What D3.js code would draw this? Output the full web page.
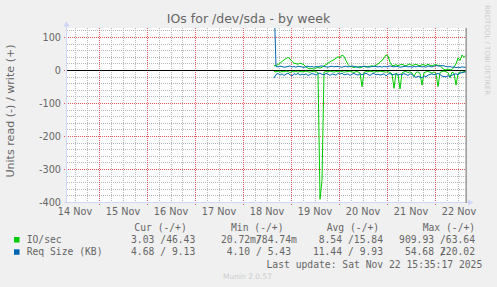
<!DOCTYPE html>
<html>
<head>
<meta charset="utf-8">
<script src="https://cdn.jsdelivr.net/npm/d3@7"></script>
<style>
  body { margin: 0; background: #f0f0f0; }
  text { font-family: 'DejaVu Sans', sans-serif; fill: #666; }
  .mono { font-family: 'DejaVu Sans Mono', monospace; }
</style>
</head>
<body>
<div id="chart"></div>
<script>
// time window of the week graph
var timeStart = new Date(2025, 10, 14, 8, 0);
var timeEnd = new Date(2025, 10, 22, 16, 0);
var lastUpdate = new Date(2025, 10, 22, 15, 35, 17);
var dataStart = new Date(2025, 10, 18, 15, 30); // one sample per hour from here

var yTicks = [100, 0, -100, -200, -300, -400];
var dayLabels = ['14 Nov', '15 Nov', '16 Nov', '17 Nov', '18 Nov', '19 Nov', '20 Nov', '21 Nov', '22 Nov'];

// IO/sec (green): read is drawn below zero, write above
var ioRead = [
  -3, -4, -2, -5, -3, -4, -2, -3, -6, -3,
  -4, -2, -5, -3, -4, -3, -2, -4, -5, -3,
  -2, -4, -6, -390, -333, -5, -3, -4, -2, -3,
  -5, -3, -4, -2, -3, -5, -4, -3, -2, -4,
  -6, -3, -4, -8, -49, -6, -3, -4, -2, -3,
  -5, -3, -4, -2, -3, -4, -5, -3, -6, -10,
  -54, -8, -12, -56, -7, -4, -3, -6, -4, -8,
  -18, -6, -4, -9, -44, -7, -4, -3, -5, -8,
  -4, -10, -49, -6, -3, -2, -4, -6, -22, -5,
  -8, -44, -10, -4, -6, -3, -3.03
];
var ioWrite = [
  14, 15, 18, 22, 27, 32, 36, 40, 35, 28,
  22, 21, 19, 22, 20, 17, 10, 7, 5, 6,
  4, 8, 9, 7, 10, 14, 18, 22, 26, 30,
  33, 37, 42, 38, 47, 43, 30, 18, 12, 11,
  9, 12, 10, 8, 11, 13, 10, 12, 13, 14,
  12, 16, 20, 26, 30, 38, 47, 44, 25, 15,
  15, 18, 14, 17, 19, 16, 14, 18, 20, 15,
  17, 19, 16, 14, 18, 17, 15, 19, 16, 14,
  17, 18, 15, 16, 8, 3, 2, 4, 2, 3,
  10, 20, 38, 30, 47, 40, 46.43
];
// Req Size KB (blue)
var reqRead = [
  -23,
  -12, -9, -14, -10, -15, -11, -8, -13, -16, -10,
  -12, -9, -14, -11, -13, -10, -15, -12, -9, -11,
  -14, -10, -8, -12, -13, -9, -11, -15, -10, -12,
  -14, -9, -11, -8, -13, -12, -10, -15, -11, -9,
  -12, -14, -10, -13, -11, -8, -12, -15, -10, -9,
  -13, -11, -14, -12, -10, -16, -11, -9, -13, -12,
  -10, -14, -11, -13, -9, -12, -15, -10, -12, -18,
  -21, -17, -20, -22, -16, -19, -14, -12, -10, -13,
  -11, -9, -12, -17, -18, -19, -16, -18, -14, -12,
  -10, -13, -8, -6, -5, -4.68
];
var reqWrite = [
  220.02,
  12, 11, 13, 12, 10, 11, 12, 14, 11, 12,
  10, 13, 12, 11, 9, 12, 13, 11, 12, 10,
  12, 11, 13, 14, 12, 11, 10, 12, 13, 11,
  12, 12, 11, 10, 12, 13, 11, 12, 14, 12,
  11, 10, 12, 11, 13, 12, 10, 11, 12, 13,
  12, 11, 12, 10, 13, 11, 12, 14, 12, 11,
  13, 12, 10, 11, 12, 13, 11, 12, 10, 12,
  11, 13, 12, 11, 12, 10, 14, 12, 11, 13,
  15, 14, 13, 15, 14, 12, 11, 12, 10, 11,
  9, 10, 9, 11, 10, 9.13
];

// legend
var legendNames = ['IO/sec', 'Req Size (KB)'];
var legendColors = ['#00cc00', '#0066b3'];
var legendHeaders = ['Cur (-/+)', 'Min (-/+)', 'Avg (-/+)', 'Max (-/+)'];
var curRead = ['3.03', '4.68'], curWrite = ['46.43', '9.13'];
var minRead = ['20.72m', '4.10'], minWrite = ['784.74m', '5.43'];
var avgRead = ['8.54', '11.44'], avgWrite = ['15.84', '9.93'];
var maxRead = ['909.93', '54.68'], maxWrite = ['63.64', '220.02'];

var plot = { left: 67, right: 467, top: 28, bottom: 203 };

var svg = d3.select('#chart').append('svg')
  .attr('width', 497)
  .attr('height', 287);

svg.append('rect')
  .attr('width', 497)
  .attr('height', 287)
  .attr('fill', '#f0f0f0');

svg.append('rect')
  .attr('x', plot.left)
  .attr('y', plot.top)
  .attr('width', plot.right - plot.left)
  .attr('height', plot.bottom - plot.top)
  .attr('fill', '#fff');

var x = d3.scaleTime()
  .domain([timeStart, timeEnd])
  .range([plot.left, plot.right]);
var y = d3.scaleLinear()
  .domain([-400, 128.8])
  .range([202.5, plot.top]);

function snap(v) {
  return Math.floor(v) + 0.5;
}

/*
 * Grid: dotted grey minor lines, dotted red major lines
 */
var grid = svg.append('g')
  .attr('shape-rendering', 'crispEdges')
  .attr('stroke-dasharray', '1,1');

var minorY = d3.range(-380, 130, 20).filter(function(v) { return v % 100 !== 0; });
grid.selectAll('line.gy').data(minorY).enter().append('line')
  .attr('class', 'gy')
  .attr('x1', plot.left).attr('x2', plot.right)
  .attr('y1', function(d) { return snap(y(d)); })
  .attr('y2', function(d) { return snap(y(d)); })
  .attr('stroke', '#b8b8b8');

var minorX = d3.timeHour.every(6).range(timeStart, timeEnd).filter(function(d) { return d.getHours() !== 0; });
grid.selectAll('line.gx').data(minorX).enter().append('line')
  .attr('class', 'gx')
  .attr('x1', function(d) { return snap(x(d)); })
  .attr('x2', function(d) { return snap(x(d)); })
  .attr('y1', plot.top).attr('y2', plot.bottom)
  .attr('stroke', '#b8b8b8');

grid.selectAll('line.my').data(yTicks).enter().append('line')
  .attr('class', 'my')
  .attr('x1', plot.left - 3).attr('x2', plot.right)
  .attr('y1', function(d) { return snap(y(d)); })
  .attr('y2', function(d) { return snap(y(d)); })
  .attr('stroke', '#e05a5a');

var dayLines = d3.timeDay.range(timeStart, timeEnd);
grid.selectAll('line.mx').data(dayLines).enter().append('line')
  .attr('class', 'mx')
  .attr('x1', function(d) { return snap(x(d)); })
  .attr('x2', function(d) { return snap(x(d)); })
  .attr('y1', plot.top).attr('y2', plot.bottom + 3)
  .attr('stroke', '#e05a5a');

/*
 * Axes
 */
var axisColor = '#cfd6f8';
svg.append('line')
  .attr('x1', plot.left - 0.5).attr('x2', plot.left - 0.5)
  .attr('y1', plot.bottom).attr('y2', 24)
  .attr('stroke', axisColor);
svg.append('path')
  .attr('d', 'M63.5,26.5 L66.5,21 L69.5,26.5 Z')
  .attr('fill', axisColor);
svg.append('line')
  .attr('x1', plot.left - 3).attr('x2', 470)
  .attr('y1', 202.5).attr('y2', 202.5)
  .attr('stroke', axisColor);
svg.append('path')
  .attr('d', 'M468,199.5 L473.5,202.5 L468,205.5 Z')
  .attr('fill', axisColor);

svg.selectAll('text.ylab').data(yTicks).enter().append('text')
  .attr('class', 'ylab')
  .attr('x', 61)
  .attr('y', function(d) { return y(d); })
  .attr('dy', '0.36em')
  .attr('text-anchor', 'end')
  .style('font-size', '9.7px')
  .text(function(d) { return d; });

svg.selectAll('text.xlab').data(dayLabels).enter().append('text')
  .attr('class', 'xlab')
  .attr('x', function(d, i) { return x(d3.timeHour.offset(new Date(2025, 10, 14 + i), 12)); })
  .attr('y', 215)
  .attr('text-anchor', 'middle')
  .style('font-size', '9.7px')
  .text(function(d) { return d; });

/*
 * Zero rule, data lines
 */
svg.append('line')
  .attr('x1', plot.left).attr('x2', plot.right)
  .attr('y1', snap(y(0))).attr('y2', snap(y(0)))
  .attr('stroke', '#000');

svg.append('clipPath').attr('id', 'clip')
  .append('rect')
  .attr('x', plot.left).attr('y', plot.top)
  .attr('width', plot.right - plot.left)
  .attr('height', plot.bottom - plot.top);

var line = d3.line()
  .x(function(d, i) { return x(d3.timeHour.offset(dataStart, i)); })
  .y(function(d) { return y(d); });

var series = [
  { values: ioRead, color: legendColors[0] },
  { values: ioWrite, color: legendColors[0] },
  { values: reqRead, color: legendColors[1] },
  { values: reqWrite, color: legendColors[1] }
];
svg.append('g').attr('clip-path', 'url(#clip)')
  .selectAll('path').data(series).enter().append('path')
  .attr('d', function(d) { return line(d.values); })
  .attr('fill', 'none')
  .attr('stroke', function(d) { return d.color; })
  .attr('stroke-width', 1);

svg.append('line')
  .attr('x1', x(lastUpdate)).attr('x2', x(lastUpdate))
  .attr('y1', plot.top).attr('y2', plot.bottom)
  .attr('stroke', '#999')
  .attr('stroke-width', 1.5);

/*
 * Titles
 */
svg.append('text')
  .attr('x', 248.5).attr('y', 23)
  .attr('text-anchor', 'middle')
  .style('font-size', '12.5px')
  .text('IOs for /dev/sda - by week');

svg.append('text')
  .attr('transform', 'translate(14, 111) rotate(-90)')
  .attr('text-anchor', 'middle')
  .style('font-size', '11.1px')
  .text('Units read (-) / write (+)');

svg.append('text')
  .attr('transform', 'translate(485, 5) rotate(90)')
  .style('font-size', '7px')
  .style('fill', '#ccc')
  .text('RRDTOOL / TOBI OETIKER');

svg.append('text')
  .attr('x', 247.5).attr('y', 279)
  .attr('text-anchor', 'middle')
  .style('font-size', '7.5px')
  .style('fill', '#ccc')
  .text('Munin 2.0.57');

/*
 * Legend
 */
var cw = 5.85;
var headerX = [134.3, 231, 326.7, 422.7];
var slashX = [160.2, 255.9, 347.9, 439.9];
var rowY = [243, 255.3];
var legend = svg.append('g').attr('class', 'mono').style('font-size', '9.7px');

legend.selectAll('text.hdr').data(legendHeaders).enter().append('text')
  .attr('class', 'mono hdr')
  .attr('x', function(d, i) { return headerX[i]; })
  .attr('y', 231.3)
  .text(function(d) { return d; });

legendNames.forEach(function(name, r) {
  legend.append('rect')
    .attr('x', 14).attr('y', rowY[r] - 6)
    .attr('width', 5.5).attr('height', 5.5)
    .attr('fill', legendColors[r]);
  legend.append('text')
    .attr('class', 'mono')
    .attr('x', 26.7).attr('y', rowY[r])
    .text(name);

  var cols = [
    [curRead[r], curWrite[r]],
    [minRead[r], minWrite[r]],
    [avgRead[r], avgWrite[r]],
    [maxRead[r], maxWrite[r]]
  ];
  cols.forEach(function(pair, c) {
    // rrdtool pads each value to a fixed field, so long values run over the slash
    var negEnd = /[a-z]$/i.test(pair[0]) ? slashX[c] : slashX[c] - cw;
    var posEnd = /[a-z]$/i.test(pair[1]) ? slashX[c] + 7 * cw : slashX[c] + 6 * cw;
    legend.append('text').attr('class', 'mono')
      .attr('x', negEnd).attr('y', rowY[r])
      .attr('text-anchor', 'end')
      .text(pair[0]);
    legend.append('text').attr('class', 'mono')
      .attr('x', slashX[c]).attr('y', rowY[r])
      .text('/');
    legend.append('text').attr('class', 'mono')
      .attr('x', posEnd).attr('y', rowY[r])
      .attr('text-anchor', 'end')
      .text(pair[1]);
  });
});

legend.append('text')
  .attr('class', 'mono')
  .attr('x', 482.3).attr('y', 267.7)
  .attr('text-anchor', 'end')
  .text('Last update: Sat Nov 22 15:35:17 2025');
</script>
</body>
</html>
